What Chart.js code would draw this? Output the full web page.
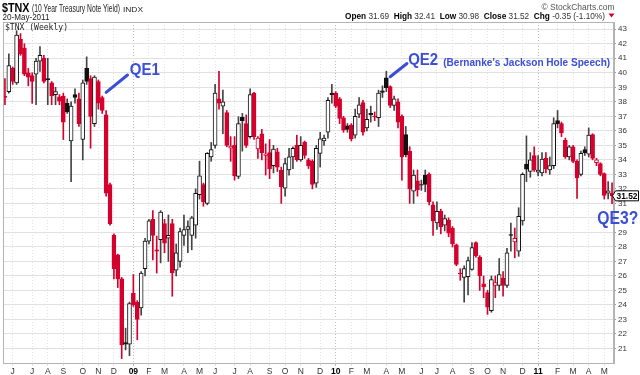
<!DOCTYPE html>
<html>
<head>
<meta charset="utf-8">
<script src="https://cdn.jsdelivr.net/npm/chart.js@4.4.1/dist/chart.umd.min.js"></script>
<style>
  html, body { margin: 0; padding: 0; background: #fff; }
</style>
</head>
<body>
<canvas id="tnx" width="640" height="375"></canvas>
<script>
// Weekly bars for $TNX, first bar = week of 19-May-2008, last = week ending 20-May-2011
const firstWeek = new Date(2008, 4, 19);

const open = [
  38.4, 38.7, 40.3, 39.3, 42.3, 41.7, 40.0, 39.8, 39.9, 40.8,
  41.0, 39.6, 39.3, 38.5, 38.35, 38.4, 37.9, 35.3, 38.5, 38.2,
  35.4, 40.3, 39.6, 36.5, 39.4, 38.3, 37.1, 32.3, 28.8, 27.45,
  25.8, 21.4, 21.3, 24.8, 24.2, 23.8, 26.5, 28.4, 29.9, 27.8,
  28.5, 29.6, 28.6, 29.6, 26.4, 27.0, 28.8, 29.2, 28.8, 29.5,
  31.6, 32.3, 31.0, 34.2, 35.0, 38.2, 37.7, 37.25, 34.8, 35.0,
  32.85, 36.93, 36.5, 35.6, 38.6, 34.75, 35.8, 34.3, 34.5, 33.6,
  34.55, 33.3, 32.05, 33.3, 34.2, 35.0, 34.0, 35.2, 34.0, 33.9,
  32.4, 34.45, 35.3, 35.9, 38.6, 38.6, 38.2, 36.9, 36.35, 36.4,
  35.7, 37.15, 37.95, 36.2, 37.2, 37.0, 36.9, 38.75, 39.65, 39.05,
  37.75, 38.0, 37.0, 35.75, 34.6, 31.85, 32.55, 32.3, 32.95, 33.0,
  30.9, 29.65, 30.45, 29.5, 29.85, 29.3, 28.15, 26.2, 25.9, 25.95,
  26.45, 28.3, 27.3, 25.45, 24.85, 23.6, 25.35, 25.35, 25.85, 25.35,
  28.85, 28.35, 27.7, 29.8, 33.7, 33.2, 34.3, 33.15, 33.1, 34.1,
  33.3, 33.6, 36.7, 36.5, 35.35, 34.2, 34.9, 33.9, 33.0, 34.7,
  34.4, 35.75, 33.8, 33.75, 33.05, 31.7, 31.69
];
const high = [
  39.6, 41.3, 40.4, 42.9, 42.7, 42.0, 40.3, 40.0, 41.0, 41.8,
  41.2, 41.0, 39.4, 39.0, 38.5, 38.6, 38.2, 38.0, 38.9, 38.6,
  39.5, 41.1, 39.8, 39.8, 39.5, 38.4, 37.4, 32.4, 28.9, 27.5,
  25.9, 22.4, 24.2, 26.1, 24.3, 26.3, 28.6, 29.9, 30.5, 28.75,
  30.5, 29.9, 30.2, 29.9, 28.2, 29.3, 30.2, 29.8, 30.1, 32.0,
  33.9, 32.4, 34.5, 35.2, 39.2, 40.1, 38.8, 37.4, 35.6, 35.6,
  36.97, 37.2, 37.1, 38.9, 38.65, 35.6, 36.1, 35.1, 35.4, 35.0,
  34.8, 33.5, 34.1, 34.8, 34.9, 35.7, 35.6, 35.3, 34.1, 34.0,
  35.0, 35.9, 35.7, 38.3, 39.2, 38.7, 38.3, 37.0, 36.5, 36.5,
  37.5, 38.3, 38.1, 37.5, 37.7, 37.3, 38.8, 39.1, 40.1, 39.1,
  38.4, 38.2, 37.1, 36.3, 34.9, 33.3, 33.3, 32.6, 33.3, 33.1,
  31.1, 31.1, 30.6, 30.2, 30.0, 29.4, 28.2, 26.5, 26.7, 27.3,
  28.3, 28.35, 27.4, 26.0, 25.0, 26.0, 26.0, 27.2, 26.3, 27.9,
  29.65, 29.3, 30.7, 33.1, 35.65, 34.5, 34.9, 34.3, 34.5, 34.5,
  34.2, 36.9, 37.4, 36.6, 35.5, 35.0, 35.0, 34.0, 34.6, 34.9,
  36.2, 35.8, 34.1, 33.8, 33.1, 32.5, 32.41
];
const low = [
  37.8, 38.6, 39.2, 39.2, 41.2, 39.8, 39.1, 37.9, 37.8, 40.1,
  39.3, 37.8, 37.8, 37.8, 37.8, 35.4, 37.2, 32.5, 37.9, 36.3,
  34.0, 39.2, 34.8, 36.3, 37.5, 37.2, 31.5, 29.5, 25.8, 25.2,
  20.3, 20.9, 20.5, 23.9, 21.6, 23.3, 26.0, 28.2, 27.1, 26.2,
  26.9, 27.6, 27.0, 24.6, 26.0, 26.6, 28.1, 27.6, 27.8, 28.6,
  31.3, 30.8, 30.9, 33.9, 34.8, 37.5, 35.8, 34.9, 33.9, 32.6,
  32.7, 34.6, 34.85, 35.5, 35.4, 34.1, 34.0, 32.95, 32.7, 33.1,
  33.2, 31.0, 31.5, 32.95, 33.4, 33.9, 33.9, 34.1, 33.4, 32.0,
  32.1, 33.5, 35.0, 35.5, 37.9, 37.6, 36.5, 35.9, 35.9, 35.3,
  35.5, 36.9, 35.7, 36.0, 36.6, 36.7, 36.3, 38.3, 38.7, 37.6,
  37.4, 36.2, 32.6, 34.2, 31.0, 31.0, 31.5, 31.9, 31.8, 30.9,
  28.8, 29.2, 28.9, 29.1, 28.7, 28.0, 26.7, 25.7, 24.2, 24.7,
  26.4, 27.3, 25.0, 24.5, 23.35, 23.5, 24.5, 25.0, 24.6, 25.2,
  27.7, 27.25, 27.35, 29.5, 32.5, 32.8, 33.2, 32.9, 32.9, 33.1,
  33.0, 33.4, 36.2, 35.6, 34.1, 34.0, 33.8, 31.35, 32.9, 34.3,
  34.2, 34.0, 33.6, 32.9, 31.3, 31.3, 30.98
];
const close = [
  38.3, 40.5, 39.4, 42.6, 41.3, 39.9, 39.7, 39.4, 40.8, 41.2,
  39.4, 39.5, 38.4, 38.7, 38.05, 36.6, 37.3, 37.7, 38.3, 36.5,
  39.3, 39.4, 37.0, 39.7, 37.9, 37.4, 31.7, 29.6, 26.5, 25.8,
  21.25, 21.3, 24.1, 24.0, 23.0, 26.2, 28.4, 29.8, 28.8, 27.7,
  30.4, 28.25, 28.8, 26.2, 27.6, 29.05, 29.2, 29.4, 30.0, 31.7,
  32.9, 31.1, 34.45, 34.7, 38.6, 37.9, 38.0, 35.0, 34.95, 32.9,
  36.5, 36.7, 35.0, 38.5, 35.6, 35.5, 34.5, 34.4, 33.4, 34.75,
  33.5, 32.15, 33.75, 34.2, 34.8, 34.0, 35.0, 34.3, 33.6, 32.3,
  34.8, 35.45, 35.5, 38.1, 38.5, 37.7, 36.85, 36.05, 36.1, 35.45,
  37.0, 37.8, 35.9, 36.8, 37.1, 36.95, 38.6, 38.65, 38.95, 37.75,
  38.2, 36.6, 34.2, 34.35, 32.0, 32.95, 31.95, 32.25, 32.3, 31.1,
  29.8, 30.45, 29.4, 29.95, 28.95, 28.2, 26.8, 26.15, 26.5, 27.05,
  27.95, 27.4, 26.0, 25.25, 23.85, 25.75, 25.55, 26.1, 25.35, 27.6,
  28.8, 28.6, 30.1, 33.0, 33.35, 34.0, 33.3, 33.3, 34.05, 33.4,
  33.6, 36.5, 36.5, 35.85, 34.2, 34.9, 33.9, 32.75, 34.45, 34.5,
  35.7, 34.1, 34.0, 33.0, 31.55, 31.87, 31.52
];

const yTicks = [21, 22, 23, 24, 25, 26, 27, 28, 29, 30, 31, 32, 33, 34, 35, 36, 37, 38, 39, 40, 41, 42, 43];
const monthLetters = ['J', 'F', 'M', 'A', 'M', 'J', 'J', 'A', 'S', 'O', 'N', 'D'];

const RED = '#d5002d';
const BLACK = '#111';
const BLUE = '#3a4ed6';
const FONT = '"Liberation Sans", Arial, sans-serif';

const weeks = open.map((_, i) => {
  const d = new Date(firstWeek);
  d.setDate(d.getDate() + 7 * i);
  return d;
});

// month label for the first week whose Monday falls in a new month
function monthLabel(i) {
  if (i === 0) return '';
  const d = weeks[i];
  if (d.getMonth() === weeks[i - 1].getMonth()) return '';
  if (d.getMonth() === 0) return String(d.getFullYear()).slice(2);
  return monthLetters[d.getMonth()];
}

function isDown(i) {
  return i === 0 ? true : close[i] < close[i - 1];
}
function candleColor(i) {
  return isDown(i) ? RED : BLACK;
}

function fitText(ctx, text, x, y, w, font, color) {
  ctx.font = font;
  ctx.fillStyle = color;
  const m = ctx.measureText(text).width;
  ctx.save();
  ctx.translate(x, y);
  ctx.scale(w / m, 1);
  ctx.textAlign = 'left';
  ctx.textBaseline = 'alphabetic';
  ctx.fillText(text, 0, 0);
  ctx.restore();
}

const decorations = {
  id: 'decorations',
  afterDraw(chart) {
    const { ctx, chartArea: a, scales: { x, y } } = chart;
    ctx.save();

    // plot frame
    ctx.strokeStyle = '#b4b4b4';
    ctx.lineWidth = 1;
    ctx.strokeRect(a.left + 0.5, a.top + 0.5, a.right - a.left - 1, a.bottom - a.top);

    // header
    fitText(ctx, '$TNX', 2, 12, 27.5, 'bold 12px ' + FONT, '#000');
    fitText(ctx, '(10 Year Treasury Note Yield)', 32, 12, 88, '10px ' + FONT, '#222');
    fitText(ctx, 'INDX', 123, 12, 20, '8px ' + FONT, '#222');
    fitText(ctx, '20-May-2011', 2.5, 19.5, 47, '9px ' + FONT, '#222');
    fitText(ctx, '$TNX (Weekly)', 5, 30, 63, '9px "DejaVu Sans Mono", monospace', '#222');
    fitText(ctx, '\u00a9 StockCharts.com', 541.5, 9.5, 73, '9.5px ' + FONT, '#555');

    // stats line
    const parts = [
      ['Open', true], [' 31.69  ', false], ['High', true], [' 32.41  ', false],
      ['Low', true], [' 30.98  ', false], ['Close', true], [' 31.52  ', false],
      ['Chg', true], [' -0.35 (-1.10%)', false]
    ];
    let total = 0;
    parts.forEach(p => {
      ctx.font = (p[1] ? 'bold ' : '') + '9px ' + FONT;
      total += ctx.measureText(p[0]).width;
    });
    const sx = (605 - 345) / total;
    let cx = 345;
    parts.forEach(p => {
      const f = (p[1] ? 'bold ' : '') + '9px ' + FONT;
      ctx.font = f;
      const w = ctx.measureText(p[0]).width * sx;
      fitText(ctx, p[0], cx, 18.5, w, f, p[1] ? '#000' : '#333');
      cx += w;
    });
    ctx.fillStyle = RED;
    ctx.beginPath();
    ctx.moveTo(608.5, 13.5);
    ctx.lineTo(614.5, 13.5);
    ctx.lineTo(611.5, 17.5);
    ctx.closePath();
    ctx.fill();

    // last value box
    const last = close[close.length - 1];
    const ly = y.getPixelForValue(last);
    ctx.fillStyle = '#fff';
    ctx.strokeStyle = '#000';
    ctx.beginPath();
    ctx.moveTo(612.5, ly);
    ctx.lineTo(615.5, ly - 5);
    ctx.lineTo(638.5, ly - 5);
    ctx.lineTo(638.5, ly + 5);
    ctx.lineTo(615.5, ly + 5);
    ctx.closePath();
    ctx.fill();
    ctx.stroke();
    fitText(ctx, last.toFixed(2), 616.5, ly + 3.5, 21, 'bold 9px ' + FONT, '#000');

    // annotations
    ctx.strokeStyle = BLUE;
    ctx.lineWidth = 3;
    ctx.lineCap = 'round';
    ctx.beginPath();
    ctx.moveTo(x.getPixelForValue(26.0), y.getPixelForValue(38.65));
    ctx.lineTo(x.getPixelForValue(31.5), y.getPixelForValue(39.85));
    ctx.moveTo(x.getPixelForValue(99.0), y.getPixelForValue(39.73));
    ctx.lineTo(x.getPixelForValue(103.3), y.getPixelForValue(40.64));
    ctx.stroke();

    fitText(ctx, 'QE1', x.getPixelForValue(32.1), y.getPixelForValue(39.85), 30, 'bold 17px ' + FONT, BLUE);
    fitText(ctx, 'QE2', x.getPixelForValue(103.6), y.getPixelForValue(40.52), 30, 'bold 16px ' + FONT, BLUE);
    fitText(ctx, "(Bernanke's Jackson Hole Speech)", x.getPixelForValue(112.6), y.getPixelForValue(40.5), 167, 'bold 11px ' + FONT, BLUE);

    // QE3? sits on a white patch that hides the axis label under it
    const qx = x.getPixelForValue(152.2);
    const qy = y.getPixelForValue(29.55);
    ctx.fillStyle = '#fff';
    ctx.fillRect(616, qy - 14, 24, 16);
    fitText(ctx, 'QE3?', qx, qy, 41, 'bold 18px ' + FONT, BLUE);

    ctx.restore();
  }
};

new Chart(document.getElementById('tnx'), {
  type: 'bar',
  data: {
    labels: weeks.map((d, i) => i),
    datasets: [
      {
        label: 'body',
        data: open.map((o, i) => [o, close[i]]),
        grouped: false,
        order: 0,
        barThickness: 4,
        borderWidth: 1,
        borderSkipped: false,
        borderColor: ctx => candleColor(ctx.dataIndex),
        backgroundColor: ctx => close[ctx.dataIndex] < open[ctx.dataIndex] ? candleColor(ctx.dataIndex) : '#fff'
      },
      {
        label: 'wick',
        data: low.map((l, i) => [l, high[i]]),
        grouped: false,
        order: 1,
        barThickness: 1,
        borderWidth: 0,
        backgroundColor: ctx => isDown(ctx.dataIndex) ? RED : '#444'
      }
    ]
  },
  options: {
    responsive: false,
    animation: false,
    layout: { padding: { left: 3, top: 22, right: 0, bottom: 0 } },
    plugins: { legend: { display: false }, tooltip: { enabled: false } },
    scales: {
      x: {
        offset: true,
        grid: {
          offset: false,
          tickLength: 3,
          color: ctx => {
            const lab = monthLabel(ctx.index);
            if (!lab) return 'rgba(0,0,0,0)';
            return /\d/.test(lab) ? '#bdbdbd' : '#e1e1e1';
          }
        },
        border: { color: '#b4b4b4', dash: [1, 2] },
        ticks: {
          autoSkip: false,
          maxRotation: 0,
          minRotation: 0,
          padding: 1,
          color: ctx => /\d/.test(monthLabel(ctx.index)) ? '#000' : '#333',
          font: ctx => ({ family: FONT, size: 8.5, weight: /\d/.test(monthLabel(ctx.index)) ? 'bold' : 'normal' }),
          callback: (v, i) => monthLabel(i)
        },
        afterFit: s => { s.height = 12; }
      },
      y: {
        position: 'right',
        min: 20,
        max: 43.5,
        afterBuildTicks: s => { s.ticks = yTicks.map(v => ({ value: v })); },
        grid: { color: '#e1e1e1', tickLength: 2, tickColor: '#999' },
        border: { color: '#b4b4b4' },
        ticks: {
          padding: 2,
          color: '#333',
          font: { family: FONT, size: 8 },
          callback: v => String(v)
        },
        afterFit: s => { s.width = 26; }
      }
    }
  },
  plugins: [decorations]
});
</script>
</body>
</html>
